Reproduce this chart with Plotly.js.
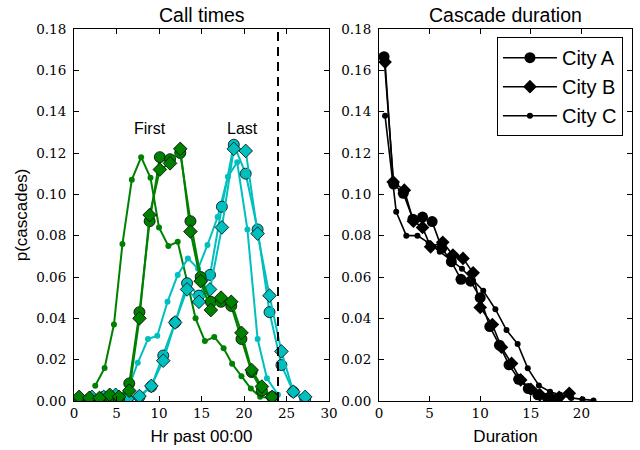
<!DOCTYPE html>
<html>
<head>
<meta charset="utf-8">
<script src="https://cdn.plot.ly/plotly-3.0.1.min.js"></script>
<style>html,body{margin:0;padding:0;background:#fff;}#chart{width:640px;height:450px;}</style>
</head>
<body>
<div id="chart"></div>
<script>
// ---- Left panel: call times (hour of first / last call) ----
const firstX_AB = [0.6,1.8,3.0,4.2,5.3,6.5,7.7,8.9,10.1,11.3,12.5,13.7,14.9,16.1,17.3,18.5,19.7,20.9,22.1,23.3];
const firstA = [0.001,0.001,0.001,0.002,0.001,0.0085,0.043,0.087,0.118,0.117,0.120,0.087,0.060,0.048,0.048,0.046,0.030,0.014,0.005,0.002];
const firstB = [0.002,0.0015,0.0015,0.003,0.002,0.005,0.040,0.090,0.112,0.115,0.122,0.082,0.058,0.044,0.050,0.048,0.033,0.015,0.007,0.002];
const firstCX = [2.5,3.6,4.7,5.7,6.8,7.9,9.0,10.0,11.1,12.2,13.3,14.3,15.4,16.5,17.6,18.6,19.7,20.8,21.9,23.0];
const firstC = [0.0074,0.016,0.037,0.076,0.107,0.118,0.108,0.084,0.075,0.077,0.058,0.040,0.029,0.031,0.0255,0.018,0.012,0.006,0.002,0.0015];

const lastX_AB = [0.7,2.1,3.5,4.9,6.3,7.7,9.1,10.5,11.9,13.3,14.7,16.0,17.4,18.8,20.2,21.6,23.0,24.4,25.8,27.2];
const lastA = [0.001,0.001,0.002,0.002,0.001,0.002,0.007,0.022,0.038,0.057,0.051,0.061,0.094,0.124,0.110,0.083,0.043,0.0174,0.0045,0.001];
const lastB = [0.001,0.002,0.002,0.003,0.001,0.0024,0.0073,0.0195,0.038,0.054,0.048,0.054,0.084,0.122,0.121,0.081,0.051,0.024,0.0045,0.002];
const lastCX = [1.6,2.8,4.0,5.1,6.3,7.5,8.7,9.8,11.0,12.2,13.4,14.6,15.7,16.9,18.1,19.2,20.4,21.6,22.7,24.0];
const lastC = [0.0005,0.0005,0.001,0.001,0.005,0.0185,0.030,0.0316,0.048,0.061,0.069,0.064,0.0755,0.089,0.1085,0.1155,0.083,0.030,0.011,0.003];

const cutoffX = [24, 24];
const cutoffY = [0, 0.18];

// ---- Right panel: cascade duration ----
const durAX = [0.5,1.45,2.4,3.35,4.3,5.25,6.2,7.15,8.1,9.05,10.0,10.95,11.9,12.85,13.8,14.75,15.7,16.65,17.6];
const durA = [0.1666,0.105,0.1005,0.088,0.089,0.0868,0.074,0.0674,0.0589,0.058,0.050,0.036,0.027,0.0175,0.0105,0.006,0.003,0.0015,0.001];
const durBX = [0.6,1.4,2.5,3.4,4.3,5.1,6.3,7.3,8.3,9.3,10.0,11.2,12.1,13.1,14.0,15.0,15.9,16.9,17.8,18.8];
const durB = [0.164,0.106,0.102,0.087,0.084,0.0746,0.0768,0.0706,0.069,0.062,0.0453,0.037,0.026,0.0182,0.0102,0.0057,0.003,0.002,0.0018,0.0037];
const durCX = [0.6,1.7,2.7,3.8,4.9,6.0,7.1,8.2,9.2,10.3,11.5,12.6,13.7,14.7,15.8,16.9,17.9,19.0,20.1,21.2];
const durC = [0.138,0.0916,0.080,0.080,0.0765,0.0722,0.068,0.064,0.059,0.0534,0.0444,0.0343,0.0276,0.0158,0.0075,0.0045,0.003,0.0015,0.0008,0.0003];

const cityNames = ['City A', 'City B', 'City C'];
const leftLabels = ['First', 'Last'];
const titles = ['Call times', 'Cascade duration'];

const GREEN = '#008000', CYAN = '#00bfbf';
const SANS = "'Liberation Sans', Arial, sans-serif";
const SERIF = "'DejaVu Serif', serif";

function big(color, sym, size, xa, ya) {
  return {mode:'lines+markers', xaxis:xa, yaxis:ya, showlegend:false,
    line:{color:color, width:2},
    marker:{symbol:sym, size:size, color:color, line:{color:'#000', width:0.8}}};
}
function small(color, xa, ya) {
  return {mode:'lines+markers', xaxis:xa, yaxis:ya, showlegend:false,
    line:{color:color, width:2},
    marker:{symbol:'circle', size:6, color:color, line:{width:0}}};
}

const traces = [
  Object.assign(small(GREEN,'x','y'), {x:firstCX, y:firstC}),
  Object.assign(small(CYAN,'x','y'), {x:lastCX, y:lastC}),
  Object.assign(big(CYAN,'circle',11,'x','y'), {x:lastX_AB, y:lastA}),
  Object.assign(big(CYAN,'diamond',10.5,'x','y'), {x:lastX_AB, y:lastB}),
  Object.assign(big(GREEN,'circle',11,'x','y'), {x:firstX_AB, y:firstA}),
  Object.assign(big(GREEN,'diamond',10.5,'x','y'), {x:firstX_AB, y:firstB}),
  {x:cutoffX, y:cutoffY, mode:'lines', xaxis:'x', yaxis:'y', showlegend:false,
   line:{color:'#000', width:2, dash:'9px,6px'}},
  {x:durAX, y:durA, name:cityNames[0], mode:'lines+markers', xaxis:'x2', yaxis:'y2',
   line:{color:'#000', width:1.6}, marker:{symbol:'circle', size:11, color:'#000'}},
  {x:durBX, y:durB, name:cityNames[1], mode:'lines+markers', xaxis:'x2', yaxis:'y2',
   line:{color:'#000', width:1.6}, marker:{symbol:'diamond', size:10.5, color:'#000'}},
  {x:durCX, y:durC, name:cityNames[2], mode:'lines+markers', xaxis:'x2', yaxis:'y2',
   line:{color:'#000', width:1.6}, marker:{symbol:'circle', size:6, color:'#000'}}
];

const axBase = {showline:true, linecolor:'#000', linewidth:1, mirror:'ticks',
  ticks:'inside', ticklen:5, tickwidth:1, tickcolor:'#000', showgrid:false, zeroline:false,
  tickfont:{family:SERIF, size:13.5, color:'#000'}};

const layout = {
  width:640, height:450,
  margin:{l:74, r:8, t:29, b:49},
  paper_bgcolor:'#fff', plot_bgcolor:'#fff',
  font:{family:SANS, color:'#000'},
  xaxis: Object.assign({}, axBase, {domain:[0,0.457], range:[0,30], dtick:5, anchor:'y',
    title:{text:'Hr past 00:00', font:{family:SANS, size:17}, standoff:9}}),
  yaxis: Object.assign({}, axBase, {range:[0,0.18], dtick:0.02, tickformat:'.2f', anchor:'x',
    ticklabelstandoff:4,
    title:{text:'p(cascades)', font:{family:SANS, size:17}, standoff:4}}),
  xaxis2: Object.assign({}, axBase, {domain:[0.5466,1], range:[0,25], dtick:5, anchor:'y2',
    title:{text:'Duration', font:{family:SANS, size:17}, standoff:9}}),
  yaxis2: Object.assign({}, axBase, {range:[0,0.18], dtick:0.02, tickformat:'.2f', anchor:'x2',
    ticklabelstandoff:4}),
  showlegend:true,
  legend:{x:0.758, y:0.978, xanchor:'left', yanchor:'top', bgcolor:'#fff',
    bordercolor:'#000', borderwidth:1, itemwidth:54,
    font:{family:SANS, size:20, color:'#000'}},
  annotations:[
    {text:leftLabels[0], x:8.9, y:0.132, xref:'x', yref:'y', showarrow:false,
     font:{family:SANS, size:16}},
    {text:leftLabels[1], x:19.8, y:0.132, xref:'x', yref:'y', showarrow:false,
     font:{family:SANS, size:16}},
    {text:titles[0], x:0.2285, y:1, xref:'paper', yref:'paper', xanchor:'center', yanchor:'bottom', yshift:1,
     showarrow:false, font:{family:SANS, size:19.5}},
    {text:titles[1], x:0.7733, y:1, xref:'paper', yref:'paper', xanchor:'center', yanchor:'bottom', yshift:1,
     showarrow:false, font:{family:SANS, size:19.5}}
  ]
};

Plotly.newPlot('chart', traces, layout, {displayModeBar:false, staticPlot:true});
</script>
</body>
</html>
